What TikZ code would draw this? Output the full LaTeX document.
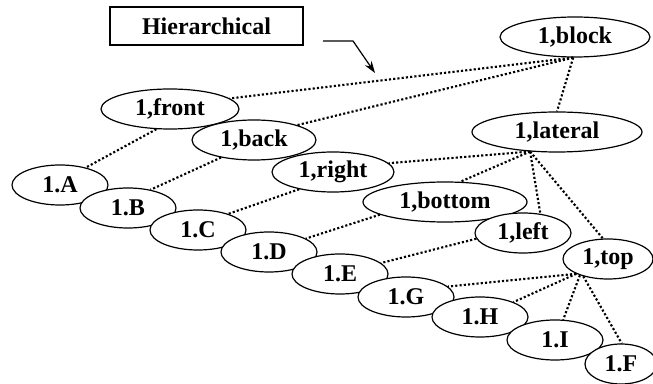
\documentclass[tikz,border=0pt]{standalone}
\usepackage{fontspec}
\setmainfont{Liberation Serif}
\usetikzlibrary{shapes.geometric,arrows.meta}
\begin{document}
\begin{tikzpicture}[x=0.75pt,y=-0.75pt,
  ell/.style={ellipse,draw,line width=0.9pt,fill=white,inner sep=0pt,minimum height=30pt,font=\fontsize{18pt}{20pt}\selectfont\bfseries},
  dots/.style={line width=1.6pt,dash pattern=on 1.6pt off 1.6pt},
  lbl/.style={draw,line width=0.9pt,inner sep=0pt,minimum width=144.75pt,minimum height=28.5pt,font=\fontsize{18pt}{20pt}\selectfont\bfseries}]
\useasboundingbox (0,0) rectangle (653,384);
\node[lbl] (hier) at (206.5,26) {Hierarchical};
\coordinate (a0) at (323,41);
\coordinate (a1) at (353,41);
\coordinate (a2) at (375,73);
% nodes
\node[ell,minimum width=112.5pt] (block) at (575,37) {1,block};
\node[ell,minimum width=103.5pt] (front) at (170,109) {1,front};
\node[ell,minimum width=93pt] (back) at (254,140) {1,back};
\node[ell,minimum width=91.5pt] (right) at (333,172) {1,right};
\node[ell,minimum width=127.5pt] (lateral) at (557,132) {1,lateral};
\node[ell,minimum width=123pt] (bottom) at (445,202) {1,bottom};
\node[ell,minimum width=72pt] (left) at (523,233) {1,left};
\node[ell,minimum width=67.5pt] (top) at (608,259) {1,top};
% edges behind letter nodes are drawn first
\draw[dots] (block.265) -- (front.10);
\draw[dots] (block.265) -- (back.19);
\draw[dots] (block.265) -- (lateral.90);
\draw[dots] (lateral.216) -- (right.9);
\draw[dots] (lateral.216) -- (bottom.53);
\draw[dots] (lateral.216) -- (left.48);
\draw[dots] (lateral.216) -- (top.104);
\node[ell,minimum width=72pt] (A) at (60,185) {1.A};
\node[ell,minimum width=72pt] (B) at (128,208) {1.B};
\node[ell,minimum width=72pt] (C) at (198,230) {1.C};
\node[ell,minimum width=72pt] (D) at (269,252) {1.D};
\node[ell,minimum width=72pt] (E) at (340,274) {1.E};
\node[ell,minimum width=72pt] (G) at (406,297) {1.G};
\node[ell,minimum width=72pt] (H) at (480,317) {1.H};
\node[ell,minimum width=72pt] (I) at (555,340) {1.I};
\node[ell,minimum width=54pt] (F) at (621,364) {1.F};
\draw[dots] (front.236) -- (A.34);
\draw[dots] (back.208) -- (B.39);
\draw[dots] (right.207) -- (C.28);
\draw[dots] (bottom.191) -- (D.20);
\draw[dots] (left.187) -- (E.15);
\draw[dots] (top.205) -- (G.14);
\draw[dots] (top.205) -- (H.24);
\draw[dots] (top.210) -- (I.68);
\draw[dots] (top.215) -- (F.88);
\draw[line width=0.9pt,-{Stealth[length=9pt,width=6pt]}] (a0) -- (a1) -- (a2);
\end{tikzpicture}
\end{document}
